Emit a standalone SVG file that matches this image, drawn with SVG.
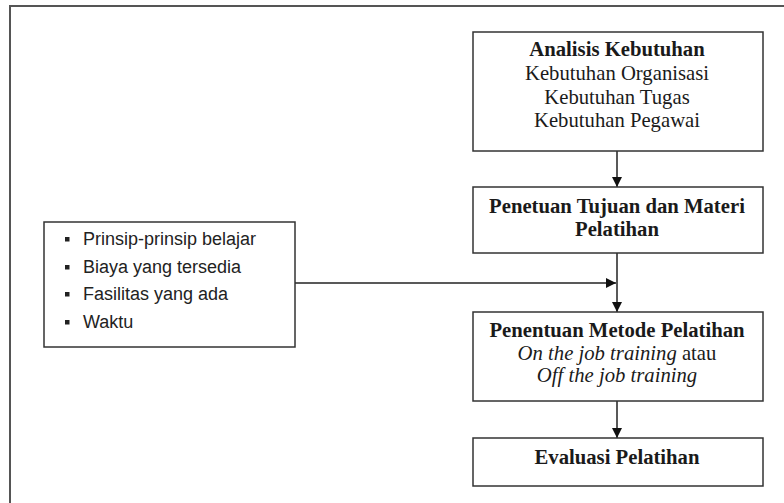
<svg xmlns="http://www.w3.org/2000/svg" width="784" height="503" viewBox="0 0 784 503">
<defs>
<style>
.box{fill:#fff;stroke:#333;stroke-width:1.5}
.t{font-family:"Liberation Serif","Times New Roman",serif;font-size:20.7px;fill:#1a1a1a;text-anchor:middle}
.b{font-weight:bold}
.i{font-style:italic}
.s{font-family:"Liberation Sans",Arial,sans-serif;font-size:18px;fill:#222}
.ln{stroke:#222;stroke-width:1.5;fill:none}
.bul{fill:#222}
</style>
<marker id="ah" viewBox="0 0 10 10" refX="10" refY="5" markerWidth="10" markerHeight="10" markerUnits="userSpaceOnUse" orient="auto">
<path d="M0,0 L10,5 L0,10 Z" fill="#111"/>
</marker>
</defs>
<rect x="0" y="0" width="784" height="503" fill="#fff"/>
<rect x="10" y="6" width="800" height="520" fill="none" stroke="#555" stroke-width="2"/>
<g id="connectors">
<line class="ln" x1="617" y1="151" x2="617" y2="187" marker-end="url(#ah)"/>
<line class="ln" x1="617" y1="253" x2="617" y2="312" marker-end="url(#ah)"/>
<line class="ln" x1="295" y1="283" x2="616" y2="283" marker-end="url(#ah)"/>
<line class="ln" x1="617" y1="401" x2="617" y2="438" marker-end="url(#ah)"/>
</g>
<g id="analisis">
<rect class="box" x="473" y="32" width="290" height="119"/>
<text class="t b" x="617" y="56">Analisis Kebutuhan</text>
<text class="t" x="617" y="80">Kebutuhan Organisasi</text>
<text class="t" x="617" y="104">Kebutuhan Tugas</text>
<text class="t" x="617" y="127">Kebutuhan Pegawai</text>
</g>
<g id="tujuan">
<rect class="box" x="473" y="187" width="290" height="66"/>
<text class="t b" x="617" y="213">Penetuan Tujuan dan Materi</text>
<text class="t b" x="617" y="236">Pelatihan</text>
</g>
<g id="metode">
<rect class="box" x="473" y="312" width="290" height="89"/>
<text class="t b" x="617" y="337">Penentuan Metode Pelatihan</text>
<text class="t" x="617" y="360"><tspan class="i">On the job training</tspan> atau</text>
<text class="t i" x="617" y="382">Off the job training</text>
</g>
<g id="evaluasi">
<rect class="box" x="473" y="438" width="290" height="48"/>
<text class="t b" x="617" y="464">Evaluasi Pelatihan</text>
</g>
<g id="faktor">
<rect class="box" x="44" y="222" width="251" height="125"/>
<rect class="bul" x="65" y="237" width="4.5" height="4.5"/>
<rect class="bul" x="65" y="265" width="4.5" height="4.5"/>
<rect class="bul" x="65" y="292" width="4.5" height="4.5"/>
<rect class="bul" x="65" y="320" width="4.5" height="4.5"/>
<text class="s" x="83" y="245">Prinsip-prinsip belajar</text>
<text class="s" x="83" y="273">Biaya yang tersedia</text>
<text class="s" x="83" y="300">Fasilitas yang ada</text>
<text class="s" x="83" y="328">Waktu</text>
</g>
</svg>
